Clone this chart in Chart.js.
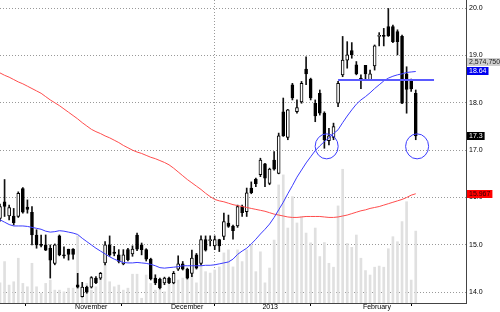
<!DOCTYPE html>
<html>
<head>
<meta charset="utf-8">
<script src="https://cdn.jsdelivr.net/npm/chart.js@4.4.1/dist/chart.umd.min.js"></script>
<style>
  html, body { margin: 0; padding: 0; background: #fff; }
  #wrap { width: 500px; height: 312px; }
</style>
</head>
<body>
<div id="wrap"><canvas id="chart"></canvas></div>
<script>
// month ticks (trading-day index) and their names
const monthTicks = [16, 37, 57, 79];
const monthNames = ['November', 'December', '2013', 'February'];
const slotCount = 103;

const yTicks = [14, 15, 16, 17, 18, 19, 20];

const opens = [15.56, 15.91, 15.61, 15.61, 15.60, 16.19, 15.80, 15.69, 15.21, 15.01,
  15.00, 14.93, 14.61, 15.19, 14.78, 14.91, 14.91, 14.16, 13.91, 14.11,
  14.11, 14.30, 14.30, 14.62, 15.00, 14.85, 14.79, 14.60, 14.90, 14.81,
  15.21, 15.00, 14.90, 14.70, 14.30, 14.28, 14.20, 14.30, 14.20, 14.49,
  14.60, 14.49, 14.40, 14.79, 14.61, 15.11, 15.09, 14.98, 15.11, 15.18,
  15.46, 15.40, 15.40, 15.81, 15.70, 16.20, 16.39, 16.48, 16.71, 16.30,
  16.79, 16.51, 17.81, 17.27, 18.38, 17.81, 18.02, 18.71, 18.50, 17.99,
  18.20, 17.78, 17.20, 17.27, 17.99, 18.59, 18.90, 19.10, 18.80, 18.52,
  18.79, 18.48, 18.78, 19.40, 19.41, 19.61, 19.61, 19.50, 19.40, 18.61,
  18.45, 18.20];
const highs = [15.86, 16.38, 15.84, 15.77, 16.12, 16.21, 15.95, 15.81, 15.32, 15.21,
  15.21, 15.00, 15.02, 15.21, 14.96, 14.91, 14.92, 14.40, 14.21, 14.13,
  14.33, 14.33, 14.42, 15.07, 15.19, 14.97, 14.90, 14.90, 14.93, 14.98,
  15.25, 15.04, 14.92, 14.72, 14.37, 14.30, 14.32, 14.32, 14.44, 14.77,
  14.65, 14.51, 14.89, 14.82, 15.19, 15.19, 15.19, 15.19, 15.12, 15.67,
  15.63, 15.42, 15.84, 15.84, 16.20, 16.33, 16.41, 16.83, 16.72, 16.62,
  16.97, 17.36, 18.10, 17.86, 18.41, 18.06, 18.45, 18.97, 18.52, 18.06,
  18.27, 17.81, 17.46, 17.57, 18.45, 19.40, 19.29, 19.27, 18.87, 18.59,
  18.79, 18.69, 19.22, 19.48, 19.57, 19.99, 19.64, 19.54, 19.43, 18.76,
  18.50, 18.27];
const lows = [15.50, 15.60, 15.53, 15.42, 15.58, 15.67, 15.67, 15.00, 14.93, 14.96,
  14.88, 14.30, 14.58, 14.77, 14.72, 14.68, 14.70, 14.09, 13.90, 13.98,
  14.09, 14.18, 14.27, 14.58, 14.76, 14.77, 14.62, 14.58, 14.66, 14.76,
  14.88, 14.79, 14.66, 14.26, 14.16, 14.07, 14.16, 14.18, 14.18, 14.46,
  14.47, 14.28, 14.33, 14.49, 14.58, 14.87, 14.98, 14.90, 14.86, 15.11,
  15.37, 15.12, 15.37, 15.60, 15.60, 16.08, 16.23, 16.44, 16.23, 16.27,
  16.58, 16.50, 17.29, 17.22, 18.06, 17.78, 17.99, 18.38, 18.06, 17.60,
  17.74, 17.04, 17.11, 17.22, 17.92, 18.55, 18.73, 18.94, 18.59, 18.30,
  18.48, 18.47, 18.69, 19.20, 19.20, 19.40, 19.27, 19.01, 17.98, 17.78,
  18.24, 17.22];
const closes = [15.81, 15.81, 15.79, 15.47, 16.09, 15.69, 15.75, 15.21, 15.00, 14.99,
  14.89, 14.68, 15.00, 14.79, 14.77, 14.80, 14.80, 14.11, 14.11, 14.00,
  14.31, 14.20, 14.40, 15.00, 14.79, 14.82, 14.65, 14.79, 14.69, 14.91,
  14.91, 14.90, 14.70, 14.28, 14.20, 14.09, 14.30, 14.20, 14.40, 14.60,
  14.49, 14.30, 14.72, 14.51, 15.11, 14.89, 15.11, 15.11, 14.98, 15.49,
  15.39, 15.30, 15.81, 15.68, 16.10, 16.10, 16.29, 16.79, 16.41, 16.60,
  16.60, 17.30, 17.30, 17.85, 18.10, 17.90, 18.41, 18.61, 18.10, 17.72,
  17.78, 17.22, 17.30, 17.50, 18.41, 18.90, 19.01, 19.01, 18.61, 18.50,
  18.61, 18.61, 19.20, 19.42, 19.40, 19.41, 19.29, 19.29, 17.99, 18.28,
  18.29, 17.30];

// volume, millions of shares
const volumes = [0.72, 1.48, 0.64, 0.76, 1.60, 0.70, 0.58, 1.42, 0.58, 0.35,
  0.70, 0.82, 0.46, 0.46, 0.40, 0.53, 0.53, 2.40, 0.53, 0.70,
  0.46, 0.58, 0.97, 1.36, 0.76, 0.58, 0.64, 0.46, 0.53, 1.03,
  1.03, 0.17, 1.00, 0.70, 0.46, 0.70, 0.40, 0.76, 0.72, 0.82,
  0.89, 0.89, 1.00, 0.72, 1.72, 1.12, 1.07, 1.18, 1.29, 1.79,
  1.90, 1.29, 1.90, 1.48, 1.90, 2.07, 1.12, 1.83, 0.72, 1.25,
  2.25, 4.22, 4.58, 2.68, 3.80, 2.86, 3.09, 2.50, 2.15, 2.68,
  1.66, 2.16, 1.42, 1.28, 3.47, 4.78, 2.13, 1.99, 2.43, 1.60,
  1.16, 1.00, 1.28, 1.32, 1.28, 1.94, 2.37, 2.19, 2.91, 3.62,
  0.82, 2.57];

const maBlue = [15.53, 15.48, 15.43, 15.40, 15.40, 15.40, 15.39, 15.37, 15.35, 15.33,
  15.29, 15.27, 15.28, 15.30, 15.29, 15.27, 15.25, 15.22, 15.14, 15.07,
  15.00, 14.93, 14.87, 14.81, 14.75, 14.70, 14.66, 14.63, 14.62, 14.62,
  14.63, 14.62, 14.61, 14.59, 14.56, 14.52, 14.51, 14.52, 14.53, 14.54,
  14.56, 14.56, 14.56, 14.56, 14.56, 14.57, 14.57, 14.58, 14.60, 14.62,
  14.64, 14.70, 14.80, 14.87, 14.93, 15.02, 15.12, 15.23, 15.33, 15.44,
  15.58, 15.74, 15.90, 16.08, 16.25, 16.43, 16.58, 16.73, 16.86, 16.99,
  17.09, 17.18, 17.26, 17.35, 17.43, 17.58, 17.72, 17.85, 17.97, 18.06,
  18.13, 18.21, 18.30, 18.38, 18.46, 18.52, 18.56, 18.59, 18.61, 18.64,
  18.65, 18.66];

const maRed = [18.63, 18.58, 18.54, 18.49, 18.44, 18.40, 18.35, 18.30, 18.25, 18.20,
  18.13, 18.06, 18.00, 17.94, 17.87, 17.80, 17.73, 17.66, 17.58, 17.51,
  17.44, 17.39, 17.35, 17.30, 17.26, 17.21, 17.16, 17.10, 17.05, 17.00,
  16.96, 16.93, 16.89, 16.85, 16.82, 16.78, 16.74, 16.69, 16.62, 16.54,
  16.46, 16.38, 16.31, 16.24, 16.17, 16.09, 16.02, 15.96, 15.93, 15.91,
  15.88, 15.85, 15.83, 15.81, 15.79, 15.77, 15.75, 15.73, 15.71, 15.68,
  15.65, 15.63, 15.61, 15.59, 15.58, 15.58, 15.59, 15.60, 15.60, 15.60,
  15.60, 15.59, 15.58, 15.58, 15.59, 15.61, 15.63, 15.66, 15.69, 15.72,
  15.74, 15.77, 15.79, 15.81, 15.84, 15.87, 15.90, 15.93, 15.96, 16.00,
  16.05, 16.08];

// drawn level line and marker circles
const levelValue = 18.48;
const levelFrom = 74;
const levelTo = 95;
const circleIdx = [71.5, 91.3];
const circleVal = [17.08, 17.08];

// last-value tags
const lastVolumeText = '2,574,750';
const lastBlueText = '18.64';
const lastCloseText = '17.3';
const lastRedText = '15.967';

const xLabels = [];
for (let i = 0; i < slotCount; i++) {
    const k = monthTicks.indexOf(i);
    xLabels.push(k >= 0 ? monthNames[k] : '');
}
const levelData = xLabels.map((_, i) => (i >= levelFrom && i <= levelTo) ? levelValue : null);

const FONT = '"Liberation Sans", Arial, sans-serif';
Chart.defaults.font.family = FONT;
Chart.defaults.font.size = 7;
Chart.defaults.color = '#000';

function drawTag(ctx, text, yc, left, bg, fg) {
    ctx.font = '7px ' + FONT;
    const w = ctx.measureText(text).width + 4;
    const top = Math.round(yc) - 4;
    ctx.fillStyle = bg;
    ctx.fillRect(left, top, w, 8);
    ctx.fillStyle = fg;
    ctx.textBaseline = 'middle';
    ctx.textAlign = 'left';
    ctx.fillText(text, left + 2, top + 4.5);
}

// no extra edge padding around the plot
function noPad(s) {
    s.paddingTop = 0; s.paddingBottom = 0; s.paddingLeft = 0; s.paddingRight = 0;
}

const overlay = {
    id: 'overlay',
    afterDraw(chart) {
        const { ctx, chartArea } = chart;
        const x = chart.scales.x, y = chart.scales.y;
        ctx.save();
        ctx.strokeStyle = '#3c3cff';
        ctx.lineWidth = 1;
        circleIdx.forEach((v, k) => {
            ctx.beginPath();
            ctx.ellipse(x.getPixelForValue(v), y.getPixelForValue(circleVal[k]), 11.5, 12.5, 0, 0, Math.PI * 2);
            ctx.stroke();
        });

        const left = chartArea.right + 1;
        const yBlue = y.getPixelForValue(maBlue[maBlue.length - 1]);
        drawTag(ctx, lastVolumeText, yBlue - 9, left, '#cfcfcf', '#222');
        drawTag(ctx, lastBlueText, yBlue, left, '#0000ee', '#fff');
        drawTag(ctx, lastCloseText, y.getPixelForValue(closes[closes.length - 1]), left, '#000', '#fff');
        drawTag(ctx, lastRedText, y.getPixelForValue(maRed[maRed.length - 1]), left, '#ff0000', '#300');
        ctx.restore();
    }
};

new Chart(document.getElementById('chart'), {
    type: 'bar',
    data: {
        labels: xLabels,
        datasets: [
            {
                type: 'line', label: 'level', data: levelData,
                borderColor: '#5a5aff', borderWidth: 2, pointRadius: 0, order: 0, yAxisID: 'y'
            },
            {
                type: 'line', label: 'MA blue', data: maBlue,
                borderColor: '#3c3cff', borderWidth: 1, pointRadius: 0, tension: 0, order: 0, yAxisID: 'y'
            },
            {
                type: 'line', label: 'MA red', data: maRed,
                borderColor: '#ff4d4d', borderWidth: 1, pointRadius: 0, tension: 0, order: 0, yAxisID: 'y'
            },
            {
                label: 'body', data: opens.map((o, i) => [o, closes[i]]),
                backgroundColor: c => closes[c.dataIndex] >= opens[c.dataIndex] ? '#fff' : '#000',
                borderColor: '#000', borderWidth: 1, borderSkipped: false,
                barThickness: 3, minBarLength: 1, grouped: false, order: 1, yAxisID: 'y'
            },
            {
                label: 'wick', data: lows.map((l, i) => [l, highs[i]]),
                backgroundColor: '#111', borderWidth: 0,
                barThickness: 1, grouped: false, order: 2, yAxisID: 'y'
            },
            {
                label: 'volume', data: volumes,
                backgroundColor: '#e0e0e0', borderWidth: 0,
                barThickness: 2, grouped: false, order: 5, yAxisID: 'yv'
            }
        ]
    },
    options: {
        responsive: true,
        maintainAspectRatio: false,
        animation: false,
        layout: { padding: 0 },
        plugins: { legend: { display: false }, tooltip: { enabled: false } },
        scales: {
            x: {
                type: 'category',
                offset: false,
                grid: {
                    color: c => monthNames[c.index] === '2013' ? '#999' : 'rgba(0,0,0,0)',
                    drawTicks: true, tickLength: 3, tickColor: '#000'
                },
                border: { color: '#444', dash: [1, 2] },
                ticks: { autoSkip: false, maxRotation: 0, align: 'start', padding: -3, labelOffset: 2 },
                afterBuildTicks: s => { s.ticks = monthTicks.map(v => ({ value: v })); },
                afterFit: s => { s.height = 9; noPad(s); }
            },
            y: {
                position: 'right',
                min: 13.774,
                max: 20.169,
                grid: { color: '#999', drawTicks: false },
                border: { color: '#444', dash: [1, 2] },
                ticks: { padding: 3, callback: v => v.toFixed(1) },
                afterBuildTicks: s => { s.ticks = yTicks.map(v => ({ value: v })); },
                afterFit: s => { s.width = 34; noPad(s); }
            },
            yv: { display: false, min: 0, max: 10.83 }
        }
    },
    plugins: [overlay]
});
</script>
</body>
</html>
